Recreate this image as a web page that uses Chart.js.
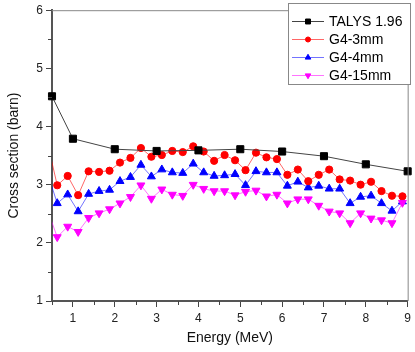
<!DOCTYPE html>
<html>
<head>
<meta charset="utf-8">
<script src="https://cdn.jsdelivr.net/npm/chart.js@4.4.1/dist/chart.umd.min.js"></script>
<style>
    html, body { margin: 0; padding: 0; background: #fff; }
    canvas { display: block; }
</style>
</head>
<body>
<canvas id="xsChart" width="415" height="352"></canvas>
<script>
// --- DATA ---
const talysEnergy = [0.5, 1, 2, 3, 4, 5, 6, 7, 8, 9];
const talysXs = [4.52, 3.79, 3.61, 3.58, 3.59, 3.61, 3.57, 3.49, 3.35, 3.23];

const g4Energy = [0.375, 0.625, 0.875, 1.125, 1.375, 1.625, 1.875, 2.125, 2.375, 2.625,
    2.875, 3.125, 3.375, 3.625, 3.875, 4.125, 4.375, 4.625, 4.875, 5.125,
    5.375, 5.625, 5.875, 6.125, 6.375, 6.625, 6.875, 7.125, 7.375, 7.625,
    7.875, 8.125, 8.375, 8.625, 8.875];

const g4_3mm = [3.77, 2.99, 3.15, 2.82, 3.23, 3.22, 3.24, 3.38, 3.46, 3.63,
    3.48, 3.51, 3.58, 3.56, 3.66, 3.57, 3.41, 3.51, 3.42, 3.25,
    3.55, 3.47, 3.44, 3.17, 3.26, 3.06, 3.17, 3.26, 3.09, 3.07,
    3.00, 3.05, 2.89, 2.81, 2.80];

const g4_4mm = [3.24, 2.68, 2.83, 2.54, 2.84, 2.89, 2.91, 3.06, 3.13, 3.34,
    3.14, 3.26, 3.21, 3.20, 3.36, 3.21, 3.15, 3.16, 3.18, 2.99,
    3.23, 3.21, 3.21, 2.98, 3.05, 2.95, 2.98, 2.93, 2.93, 2.68,
    2.79, 2.81, 2.68, 2.55, 2.71];

const g4_15mm = [2.60, 2.10, 2.28, 2.19, 2.43, 2.51, 2.58, 2.68, 2.79, 2.99,
    2.76, 2.92, 2.83, 2.81, 3.00, 2.93, 2.89, 2.89, 2.82, 2.88,
    2.90, 2.80, 2.83, 2.68, 2.75, 2.75, 2.64, 2.54, 2.51, 2.34,
    2.51, 2.42, 2.39, 2.34, 2.69];

const xTicks = [1, 2, 3, 4, 5, 6, 7, 8, 9];
const xMinorTicks = [0.5, 1.5, 2.5, 3.5, 4.5, 5.5, 6.5, 7.5, 8.5];
const yTicks = [1, 2, 3, 4, 5, 6];
const yMinorTicks = [1.5, 2.5, 3.5, 4.5, 5.5];

const FONT = 'Arial, "Liberation Sans", sans-serif';

function toPoints(xs, ys) {
    return xs.map((x, i) => ({ x: x, y: ys[i] }));
}

// --- minor ticks + top/right frame ---
const frameTicks = {
    id: 'frameTicks',
    afterDraw(chart) {
        const { ctx, chartArea: a, scales: { x, y } } = chart;
        ctx.save();
        ctx.strokeStyle = '#888';
        ctx.lineWidth = 1;
        ctx.beginPath();
        ctx.moveTo(a.left, a.top + 0.5);
        ctx.lineTo(a.right + 0.5, a.top + 0.5);
        ctx.lineTo(a.right + 0.5, a.bottom);
        ctx.stroke();

        ctx.strokeStyle = '#444';
        ctx.beginPath();
        xMinorTicks.forEach(v => {
            const px = Math.round(x.getPixelForValue(v)) + 0.5;
            ctx.moveTo(px, a.bottom);
            ctx.lineTo(px, a.bottom + 4);
        });
        yMinorTicks.forEach(v => {
            const py = Math.round(y.getPixelForValue(v)) + 0.5;
            ctx.moveTo(a.left, py);
            ctx.lineTo(a.left - 4, py);
        });
        ctx.stroke();
        ctx.restore();
    }
};

// --- legend: line + marker, like the original ---
const boxLegend = {
    id: 'boxLegend',
    afterDraw(chart) {
        const ctx = chart.ctx;
        const bx = 288.5, by = 3.5, bw = 122, bh = 81;
        ctx.save();
        ctx.fillStyle = '#fff';
        ctx.fillRect(bx, by, bw, bh);
        ctx.strokeStyle = '#888';
        ctx.lineWidth = 1;
        ctx.strokeRect(bx, by, bw, bh);

        const items = [0, 1, 2, 3];
        items.forEach((idx, row) => {
            const ds = chart.data.datasets[idx];
            const cy = 21 + row * 18;
            ctx.strokeStyle = ds.borderColor;
            ctx.lineWidth = 1;
            ctx.beginPath();
            ctx.moveTo(292, cy + 0.5);
            ctx.lineTo(324, cy + 0.5);
            ctx.stroke();
            ctx.fillStyle = ds.pointBackgroundColor;
            ctx.strokeStyle = ds.pointBorderColor;
            Chart.helpers.drawPoint(ctx, {
                pointStyle: ds.pointStyle,
                radius: ds.pointRadius * 0.7,
                rotation: ds.pointRotation || 0,
                borderWidth: 1
            }, 308, cy + 0.5);
            ctx.fillStyle = '#000';
            ctx.font = '14px ' + FONT;
            ctx.textBaseline = 'middle';
            ctx.textAlign = 'left';
            ctx.fillText(ds.label, 329, cy + 1);
        });
        ctx.restore();
    }
};

const ctx = document.getElementById('xsChart');
new Chart(ctx, {
    type: 'line',
    data: {
        datasets: [
            {
                label: 'TALYS 1.96',
                data: toPoints(talysEnergy, talysXs),
                borderColor: '#444',
                borderWidth: 1,
                pointStyle: 'rect',
                pointRadius: 5,
                pointBackgroundColor: '#000',
                pointBorderColor: '#000',
                pointBorderWidth: 1,
                clip: 6,
                order: 0
            },
            {
                label: 'G4-3mm',
                data: toPoints(g4Energy, g4_3mm),
                borderColor: 'rgba(255,0,0,0.6)',
                borderWidth: 1,
                pointStyle: 'circle',
                pointRadius: 3.6,
                pointBackgroundColor: '#ff0000',
                pointBorderColor: '#ff0000',
                pointBorderWidth: 1,
                clip: { left: 0, top: 0, right: 6, bottom: 0 },
                order: 2
            },
            {
                label: 'G4-4mm',
                data: toPoints(g4Energy, g4_4mm),
                borderColor: 'rgba(0,0,255,0.55)',
                borderWidth: 1,
                pointStyle: 'triangle',
                pointRadius: 4.6,
                pointBackgroundColor: '#0000ff',
                pointBorderColor: '#0000ff',
                pointBorderWidth: 1,
                clip: { left: 0, top: 0, right: 6, bottom: 0 },
                order: 3
            },
            {
                label: 'G4-15mm',
                data: toPoints(g4Energy, g4_15mm),
                borderColor: 'rgba(255,0,255,0.55)',
                borderWidth: 1,
                pointStyle: 'triangle',
                pointRotation: 180,
                pointRadius: 4.6,
                pointBackgroundColor: '#ff00ff',
                pointBorderColor: '#ff00ff',
                pointBorderWidth: 1,
                clip: { left: 0, top: 0, right: 6, bottom: 0 },
                order: 1
            }
        ]
    },
    options: {
        responsive: false,
        animation: false,
        layout: { padding: { top: 4, right: 2, left: 0, bottom: 0 } },
        plugins: {
            legend: { display: false },
            tooltip: { enabled: false }
        },
        elements: { line: { tension: 0 } },
        scales: {
            x: {
                type: 'linear',
                min: 0.5,
                max: 9,
                afterBuildTicks: (scale) => { scale.ticks = xTicks.map(v => ({ value: v })); },
                afterFit: (scale) => { scale.height = 51; },
                grid: { drawOnChartArea: false, tickLength: 6, tickColor: '#444', tickWidth: 1 },
                border: { color: '#555', width: 2 },
                ticks: { color: '#222', font: { family: FONT, size: 12 }, padding: 4, maxRotation: 0 },
                title: { display: true, text: 'Energy (MeV)', color: '#111', font: { family: FONT, size: 14 }, padding: { top: 4, bottom: 5 } }
            },
            y: {
                min: 1,
                max: 6,
                afterBuildTicks: (scale) => { scale.ticks = yTicks.map(v => ({ value: v })); },
                afterFit: (scale) => { scale.width = 52; },
                grid: { drawOnChartArea: false, tickLength: 6, tickColor: '#444', tickWidth: 1 },
                border: { color: '#555', width: 2 },
                ticks: { color: '#222', font: { family: FONT, size: 12 }, padding: 3 },
                title: { display: true, text: 'Cross section (barn)', color: '#111', font: { family: FONT, size: 14 }, padding: { top: 6, bottom: 0 } }
            }
        }
    },
    plugins: [frameTicks, boxLegend]
});
</script>
</body>
</html>
